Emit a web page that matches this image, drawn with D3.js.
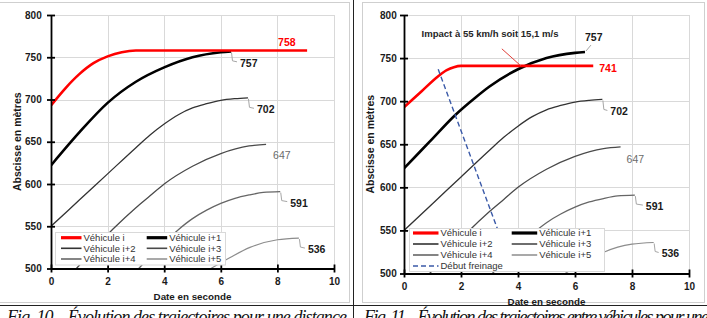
<!DOCTYPE html>
<html>
<head>
<meta charset="utf-8">
<title>Trajectoires</title>
<script src="https://d3js.org/d3.v7.min.js"></script>
<style>
  body { margin: 0; background: #fff; }
  text { font-family: "Liberation Sans", Arial, sans-serif; }
  .grid line { stroke: #d9d9d9; stroke-width: 1; shape-rendering: crispEdges; }
  .grid path { display: none; }
  .axis path, .axis line { stroke: #000; stroke-width: 1.8; }
  .axis text { font-weight: bold; font-size: 10px; fill: #1a1a1a; }
  .title { font-weight: bold; font-size: 10px; fill: #1a1a1a; }
  .legend text { font-size: 9.5px; fill: #333; }
  .lbl { font-weight: bold; font-size: 10.5px; }
  .caption { font-family: "Liberation Serif", serif; font-style: italic; font-size: 18px; fill: #111; }
</style>
</head>
<body>
<script>
// axes
var xTicks = [0, 2, 4, 6, 8, 10];
var yTicks = [500, 550, 600, 650, 700, 750, 800];
var vehicleNames = ["Véhicule i", "Véhicule i+1", "Véhicule i+2", "Véhicule i+3", "Véhicule i+4", "Véhicule i+5"];

// Fig. 10 : [date (s), abscisse (m)]
var fig10VehI  = [[0, 693], [0.5, 713], [1, 730], [1.5, 743], [2, 751], [2.5, 756], [3, 758], [9.05, 758]];
var fig10VehI1 = [[0, 622], [1, 661], [2, 696], [3, 721], [4, 738], [5, 750], [6, 756], [6.36, 757]];
var fig10Labels = ["758", "757", "702", "647", "591", "536"];

// Fig. 11
var fig11VehI  = [[0, 693], [0.6, 711], [1.2, 729], [1.5, 736], [1.75, 739.5], [2, 741], [6.64, 741]];
var fig11VehI1 = [[0, 622], [0.9, 653], [1.8, 684], [2.5, 704], [3, 717], [4, 737], [5, 750], [6, 756], [6.35, 757]];
var fig11Labels = ["741", "757", "702", "647", "591", "536"];
var fig11Braking = [[1.2, 737], [3.4, 541]];
var impactText = "Impact à 55 km/h soit 15,1 m/s";
var impactPoint = [4.1, 741];

// following vehicles, same in both figures
var vehI2 = [[0, 550], [1, 581], [2, 612], [3, 643], [3.5, 658], [4, 671], [4.5, 682], [5, 690], [5.5, 695], [6, 699], [6.5, 701], [6.96, 702]];
var vehI3 = [[0.9, 500], [2.2, 547], [3, 572], [3.5, 586], [4, 600], [5, 621], [6, 636], [7, 645], [7.6, 647]];
var vehI4 = [[3.1, 500], [4, 531], [4.5, 546], [5, 559], [5.5, 569], [6, 577], [6.5, 583], [7, 587], [7.5, 590], [8.1, 591]];
var vehI5 = [[5.65, 500], [6.33, 513], [7.03, 525], [8, 534], [8.76, 536]];

var styles = [
  {color: "#ff0000", width: 2.6},
  {color: "#000000", width: 2.6},
  {color: "#333333", width: 1.3},
  {color: "#4a4a4a", width: 1.3},
  {color: "#666666", width: 1.3},
  {color: "#8c8c8c", width: 1.2}
];

var svg = d3.select("body").append("svg")
    .attr("width", 707)
    .attr("height", 318);

// table rules and chart frames
svg.append("rect").attr("x", -1).attr("y", 2.5).attr("width", 350.5).attr("height", 300)
    .attr("fill", "#fff").attr("stroke", "#cfcfcf");
svg.append("rect").attr("x", 362.5).attr("y", 2.5).attr("width", 342).attr("height", 300)
    .attr("fill", "#fff").attr("stroke", "#cfcfcf");
svg.append("line").attr("x1", 353.5).attr("x2", 353.5).attr("y1", 0).attr("y2", 318)
    .attr("stroke", "#222").attr("stroke-width", 1);
svg.append("line").attr("x1", 0).attr("x2", 707).attr("y1", 305.5).attr("y2", 305.5)
    .attr("stroke", "#222").attr("stroke-width", 1);

// captions, cut by the bottom of the page as in the source
svg.append("text").attr("class", "caption")
    .attr("x", 7).attr("y", 323)
    .attr("textLength", 340).attr("lengthAdjust", "spacing")
    .text("Fig. 10 – Évolution des trajectoires pour une distance");
svg.append("text").attr("class", "caption")
    .attr("x", 364).attr("y", 323)
    .attr("textLength", 345).attr("lengthAdjust", "spacing")
    .text("Fig. 11 – Évolution des trajectoires entre véhicules pour une");

function drawPanel(cfg) {
  var x = d3.scaleLinear().domain([0, 10]).range([cfg.left, cfg.right]);
  var y = d3.scaleLinear().domain([500, 800]).range([cfg.bottom, cfg.top]);
  var g = svg.append("g");
  var w = cfg.right - cfg.left, h = cfg.bottom - cfg.top;

  // grid
  g.append("g").attr("class", "grid")
      .attr("transform", "translate(0," + cfg.bottom + ")")
      .call(d3.axisBottom(x).tickValues(xTicks).tickSize(-h).tickFormat(""));
  g.append("g").attr("class", "grid")
      .attr("transform", "translate(" + cfg.left + ",0)")
      .call(d3.axisLeft(y).tickValues(yTicks).tickSize(-w).tickFormat(""));

  var clipId = "clip" + cfg.id;
  svg.append("clipPath").attr("id", clipId).append("rect")
      .attr("x", cfg.left).attr("y", cfg.top - 5).attr("width", w + 20).attr("height", h + 5);

  var line = d3.line()
      .x(function(d) { return x(d[0]); })
      .y(function(d) { return y(d[1]); })
      .curve(d3.curveMonotoneX);

  var plot = g.append("g").attr("clip-path", "url(#" + clipId + ")");
  // draw followers first, lead vehicles on top
  [5, 4, 3, 2, 1, 0].forEach(function(k) {
    plot.append("path")
        .attr("d", line(cfg.series[k]))
        .attr("fill", "none")
        .attr("stroke", styles[k].color)
        .attr("stroke-width", styles[k].width)
        .attr("stroke-linejoin", "round");
  });

  if (cfg.braking) {
    plot.append("path")
        .attr("d", d3.line().x(function(d) { return x(d[0]); }).y(function(d) { return y(d[1]); })(cfg.braking))
        .attr("fill", "none")
        .attr("stroke", "#3b5aa8")
        .attr("stroke-width", 1.4)
        .attr("stroke-dasharray", "5,3");
  }

  // axes with cross ticks
  var ax = g.append("g").attr("class", "axis")
      .attr("transform", "translate(" + cfg.left + ",0)")
      .call(d3.axisLeft(y).tickValues(yTicks).tickSize(4).tickSizeOuter(0).tickPadding(cfg.yPad));
  ax.selectAll(".tick line").attr("x1", 4);
  var bx = g.append("g").attr("class", "axis")
      .attr("transform", "translate(0," + cfg.bottom + ")")
      .call(d3.axisBottom(x).tickValues(xTicks).tickSize(4).tickSizeOuter(0).tickPadding(5.5));
  bx.selectAll(".tick line").attr("y1", -4);

  g.append("text").attr("class", "title")
      .attr("transform", "translate(" + (cfg.yTitleX + 3.6) + "," + (cfg.top + h / 2) + ") rotate(-90)")
      .attr("text-anchor", "middle")
      .style("font-size", "10.5px")
      .text("Abscisse en mètres");
  g.append("text").attr("class", "title")
      .attr("x", cfg.left + w / 2).attr("y", cfg.bottom + 31)
      .attr("text-anchor", "middle")
      .style("font-size", "9.8px")
      .text("Date en seconde");

  // end labels
  cfg.labelPos.forEach(function(p, k) {
    var pts = cfg.series[k];
    var ex = x(pts[pts.length - 1][0]), ey = y(pts[pts.length - 1][1]);
    if (p.leader == "down") {
      g.append("path")
          .attr("d", "M" + (ex + 0.5) + "," + (ey + 1) + "L" + (ex + 1.5) + "," + (ey + p.dy - 6) + "L" + (ex + p.dx - 3) + "," + (ey + p.dy - 5))
          .attr("fill", "none").attr("stroke", "#a6a6a6").attr("stroke-width", 1);
    } else if (p.leader == "up") {
      g.append("path")
          .attr("d", "M" + (ex + 1) + "," + (ey - 1) + "L" + (ex + 6) + "," + (ey - 7))
          .attr("fill", "none").attr("stroke", "#a6a6a6").attr("stroke-width", 1);
    }
    g.append("text").attr("class", "lbl")
        .attr("x", ex + p.dx).attr("y", ey + p.dy)
        .attr("fill", p.fill || "#1a1a1a")
        .style("font-weight", p.weight || "bold")
        .text(cfg.labels[k]);
  });

  if (cfg.impact) {
    var ix = x(impactPoint[0]), iy = y(impactPoint[1]);
    g.append("line")
        .attr("x1", ix - 19).attr("y1", iy - 17).attr("x2", ix).attr("y2", iy)
        .attr("stroke", "#e0403a").attr("stroke-width", 1);
    g.append("text")
        .attr("x", 490).attr("y", 36.8)
        .attr("text-anchor", "middle")
        .attr("textLength", 137).attr("lengthAdjust", "spacingAndGlyphs")
        .style("font-size", "9.5px").style("font-weight", "bold").attr("fill", "#262626")
        .text(impactText);
  }

  // legend
  var L = cfg.legend;
  var lg = g.append("g").attr("class", "legend");
  lg.append("rect").attr("x", L.x).attr("y", L.y).attr("width", L.w).attr("height", L.h)
      .attr("fill", "#fff").attr("stroke", "#d9d9d9");
  var items = vehicleNames.map(function(n, k) { return {name: n, style: styles[k], dash: null}; });
  if (cfg.braking) items.push({name: "Début freinage", style: {color: "#3b5aa8", width: 1.4}, dash: "5,3"});
  items.forEach(function(it, k) {
    var cx = L.cols[k % 2], cy = L.rows[Math.floor(k / 2)];
    lg.append("line")
        .attr("x1", cx).attr("x2", cx + L.len).attr("y1", cy).attr("y2", cy)
        .attr("stroke", it.style.color)
        .attr("stroke-width", it.style.width + (k < 2 ? 0.6 : 0.3))
        .attr("stroke-dasharray", it.dash);
    lg.append("text").attr("x", cx + L.len + 2).attr("y", cy).attr("dy", "0.35em").text(it.name);
  });
}

drawPanel({
  id: 10, left: 51, right: 334, top: 15, bottom: 268.5, yPad: 5.3, yTitleX: 17,
  series: [fig10VehI, fig10VehI1, vehI2, vehI3, vehI4, vehI5],
  labels: fig10Labels,
  labelPos: [
    {dx: -29, dy: -4, fill: "#ff0000"},
    {dx: 9, dy: 15.5, leader: "down"},
    {dx: 9, dy: 15.5, leader: "down"},
    {dx: 7, dy: 15, fill: "#6b6b6b", weight: "normal"},
    {dx: 10, dy: 15, leader: "down"},
    {dx: 9, dy: 15, leader: "down"}
  ],
  legend: {x: 55.5, y: 232.5, w: 170, h: 32.5, cols: [61, 146.7], len: 20.5, rows: [237.7, 248.3, 259]}
});

drawPanel({
  id: 11, left: 404, right: 689, top: 15, bottom: 273.5, yPad: 3.3, yTitleX: 370.7,
  series: [fig11VehI, fig11VehI1, vehI2, vehI3, vehI4, vehI5],
  labels: fig11Labels,
  braking: fig11Braking,
  impact: true,
  labelPos: [
    {dx: 6, dy: 6.5, fill: "#ff0000"},
    {dx: 0, dy: -11.5, leader: "up"},
    {dx: 8, dy: 16, leader: "down"},
    {dx: 6, dy: 16.5, fill: "#6b6b6b", weight: "normal"},
    {dx: 11, dy: 15, leader: "down"},
    {dx: 8, dy: 15, leader: "down"}
  ],
  legend: {x: 409.5, y: 228.5, w: 195, h: 43, cols: [413, 511.7], len: 25.5, rows: [233, 244, 255, 266]}
});
</script>
</body>
</html>
